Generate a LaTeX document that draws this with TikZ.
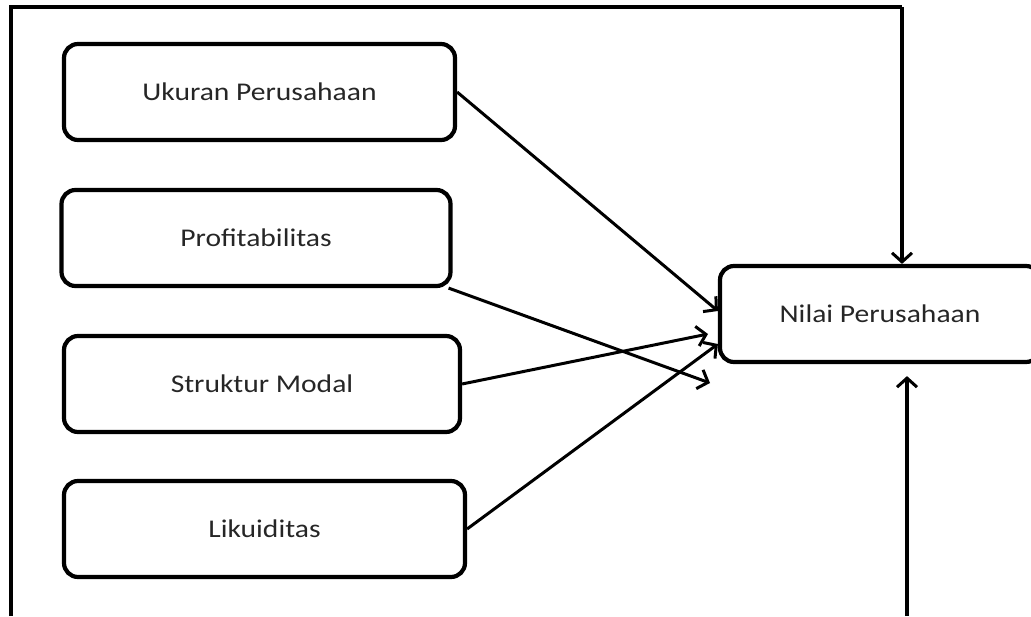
\documentclass[tikz,border=0pt]{standalone}
\usepackage{fontspec}
\setmainfont{Carlito}[FakeStretch=1.16]
\usepackage{tikz}
\usetikzlibrary{arrows.meta}

\begin{document}
\begin{tikzpicture}[x=1pt, y=-1pt,
	varbox/.style={draw, line width=4.2pt, rounded corners=14pt, minimum height=96pt,
		font=\fontsize{25.5}{30}\selectfont, text=black!85},
	link/.style={line width=3pt, -{Straight Barb[length=9pt, width=20pt, line width=3pt]}}]
	\useasboundingbox (0,0) rectangle (1031,616);
	% variabel bebas
	\node[varbox, minimum width=391pt] (ukuran) at (259.5,92) {Ukuran Perusahaan};
	\node[varbox, minimum width=389pt] (profit) at (256,238) {Profitabilitas};
	\node[varbox, minimum width=396pt] (modal) at (262,384) {Struktur Modal};
	\node[varbox, minimum width=401pt] (likuid) at (264.5,529) {Likuiditas};
	% variabel terikat
	\node[varbox, minimum width=320pt] (nilai) at (880,314) {Nilai Perusahaan};
	\coordinate (profitend) at (710,383);
	\coordinate (modalend) at (708,334);
	\coordinate (frameA) at (11,616);
	\coordinate (frameB) at (11,7);
	\coordinate (frameC) at (902,7);
	\coordinate (bawah) at (907,616);
	\draw[link] (ukuran.east) -- (nilai.west |- 0,311);
	\draw[link] (profit.south east) ++(-4,0) -- (profitend);
	\draw[link] (modal.east) -- (modalend);
	\draw[link] (likuid.east) -- (nilai.west |- 0,344);
	\draw[line width=3.2pt] (frameA) -- (frameB) -- (frameC);
	\draw[link, line width=3.2pt] (frameC) -- (frameC |- nilai.north);
	\draw[link, line width=3.2pt] (bawah) -- ([yshift=-12pt]bawah |- nilai.south);
\end{tikzpicture}
\end{document}
